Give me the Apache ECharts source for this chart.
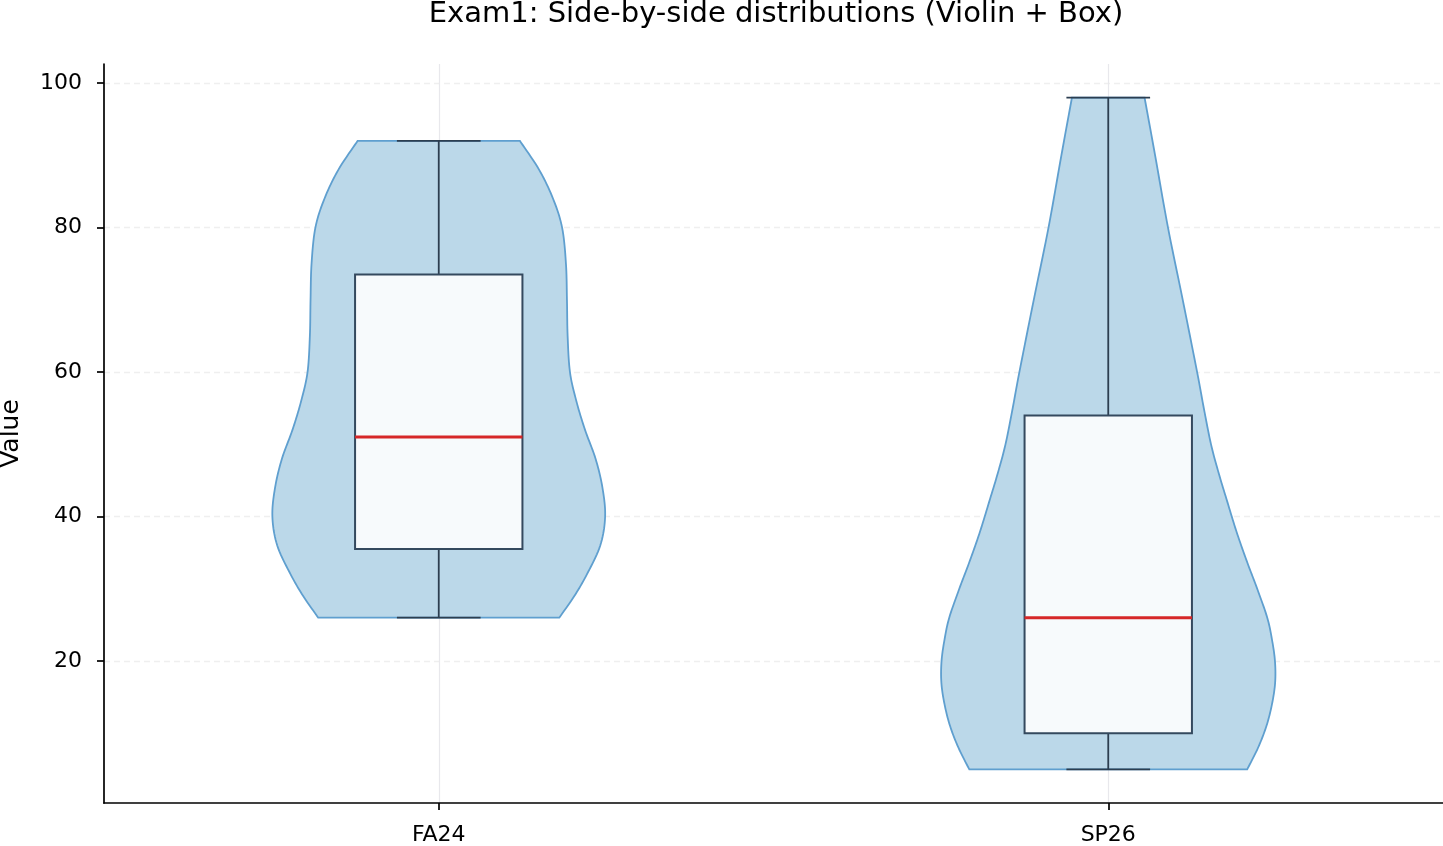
<!DOCTYPE html>
<html>
<head>
<meta charset="utf-8">
<script src="https://cdn.jsdelivr.net/npm/echarts@6/dist/echarts.min.js"></script>
<style>
  html, body { margin: 0; padding: 0; background: #fff; }
  #chart { width: 1443px; height: 846px; }
</style>
</head>
<body>
<div id="chart"></div>
<script>
const groups = ['FA24', 'SP26']
const positions = [1, 2]
const yTicks = [20, 40, 60, 80, 100]

// min, q1, median, q3, max
const fa24Box = [26, 35.5, 51, 73.5, 92]
const sp26Box = [5, 10, 26, 54, 98]

// violin outline: value levels and relative density (1 = widest point)
const fa24Levels = [26, 29, 32, 36, 40, 44, 48, 52, 56, 60, 65, 70, 75, 80, 84, 88, 92]
const fa24Density = [0.72, 0.81, 0.885, 0.965, 0.994, 0.978, 0.937, 0.874, 0.822, 0.784, 0.77, 0.766, 0.76, 0.737, 0.683, 0.6, 0.485]

const sp26Levels = [5, 8, 11, 14, 17, 20, 23, 26, 30, 34, 38, 42, 46, 50, 55, 60, 70, 80, 90, 98]
const sp26Density = [0.83, 0.895, 0.945, 0.978, 0.997, 0.996, 0.978, 0.95, 0.89, 0.825, 0.765, 0.712, 0.66, 0.614, 0.571, 0.531, 0.445, 0.357, 0.28, 0.217]

const violinHalf = 0.25
const boxHalf = 0.125
const capHalf = 0.0625

const violins = [
  { levels: fa24Levels, density: fa24Density },
  { levels: sp26Levels, density: sp26Density }
]
const boxes = [fa24Box, sp26Box]

// catmull-rom through pixel points, just to smooth the outline
function smoothPts(pts, steps) {
  const out = []
  const n = pts.length
  for (let i = 0; i < n - 1; i++) {
    const p0 = pts[Math.max(i - 1, 0)]
    const p1 = pts[i]
    const p2 = pts[i + 1]
    const p3 = pts[Math.min(i + 2, n - 1)]
    for (let s = 0; s < steps; s++) {
      const t = s / steps
      const t2 = t * t
      const t3 = t2 * t
      const f = (a, b, c, d) =>
        0.5 * (2 * b + (-a + c) * t + (2 * a - 5 * b + 4 * c - d) * t2 + (-a + 3 * b - 3 * c + d) * t3)
      out.push([f(p0[0], p1[0], p2[0], p3[0]), f(p0[1], p1[1], p2[1], p3[1])])
    }
  }
  out.push(pts[n - 1])
  return out
}

function renderViolin(params, api) {
  const i = params.dataIndex
  const pos = api.value(0)
  const v = violins[i]
  const left = []
  const right = []
  v.levels.forEach((y, k) => {
    left.push(api.coord([pos - v.density[k] * violinHalf, y]))
    right.push(api.coord([pos + v.density[k] * violinHalf, y]))
  })
  const l = smoothPts(left, 10)
  const r = smoothPts(right, 10).reverse()
  return {
    type: 'polygon',
    shape: { points: l.concat(r) },
    style: { fill: '#bbd8e9', stroke: '#5f9fcf', lineWidth: 1.8 }
  }
}

function renderBox(params, api) {
  const pos = api.value(0)
  const [mn, q1, med, q3, mx] = [1, 2, 3, 4, 5].map((d) => api.value(d))
  const p = (x, y) => api.coord([x, y])
  const line = (a, b, color, w) => ({
    type: 'line',
    shape: { x1: a[0], y1: a[1], x2: b[0], y2: b[1] },
    style: { stroke: color, lineWidth: w }
  })
  const tl = p(pos - boxHalf, q3)
  const br = p(pos + boxHalf, q1)
  const dark = '#2c3e50'
  return {
    type: 'group',
    children: [
      line(p(pos, mn), p(pos, q1), dark, 1.8),
      line(p(pos, q3), p(pos, mx), dark, 1.8),
      line(p(pos - capHalf, mn), p(pos + capHalf, mn), dark, 1.8),
      line(p(pos - capHalf, mx), p(pos + capHalf, mx), dark, 1.8),
      {
        type: 'rect',
        shape: { x: tl[0], y: tl[1], width: br[0] - tl[0], height: br[1] - tl[1] },
        style: { fill: '#f7fafc', stroke: '#34495e', lineWidth: 2 }
      },
      line(p(pos - boxHalf, med), p(pos + boxHalf, med), '#d62728', 3)
    ]
  }
}

const chart = echarts.init(document.getElementById('chart'))
chart.setOption({
  animation: false,
  textStyle: { fontFamily: 'DejaVu Sans' },
  title: {
    text: 'Exam1: Side-by-side distributions (Violin + Box)',
    left: 771,
    textAlign: 'center',
    top: -5,
    textStyle: { fontSize: 29, fontWeight: 'normal', color: '#000', fontFamily: 'DejaVu Sans' }
  },
  grid: { left: 104, right: 0, top: 64, bottom: 43, outerBoundsMode: 'none' },
  xAxis: {
    type: 'value',
    min: 0.5,
    max: 2.5,
    axisLine: { lineStyle: { color: '#000', width: 1.7 } },
    axisTick: { customValues: positions, length: 7, lineStyle: { color: '#000', width: 1.7 } },
    axisLabel: {
      customValues: positions,
      formatter: (v) => groups[positions.indexOf(v)],
      fontSize: 22,
      color: '#000',
      margin: 21
    },
    splitLine: { show: true, lineStyle: { color: '#e8e8ec', width: 1.2 } }
  },
  yAxis: {
    type: 'value',
    min: 0.35,
    max: 102.65,
    name: 'Value',
    nameLocation: 'middle',
    nameGap: 80,
    nameTextStyle: { fontSize: 25, color: '#000' },
    axisLine: { show: true, lineStyle: { color: '#000', width: 1.7 } },
    axisTick: { show: true, customValues: yTicks, length: 7, lineStyle: { color: '#000', width: 1.7 } },
    axisLabel: { customValues: yTicks, fontSize: 22, color: '#000', margin: 22 },
    splitLine: { show: true, lineStyle: { color: '#efefef', width: 1.4, type: [6, 4] } }
  },
  series: [
    {
      type: 'custom',
      renderItem: renderViolin,
      data: positions.map((x) => [x]),
      z: 2,
      silent: true
    },
    {
      type: 'custom',
      renderItem: renderBox,
      data: positions.map((x, i) => [x].concat(boxes[i])),
      z: 3,
      silent: true
    }
  ]
})
window.addEventListener('resize', () => chart.resize())
</script>
</body>
</html>
